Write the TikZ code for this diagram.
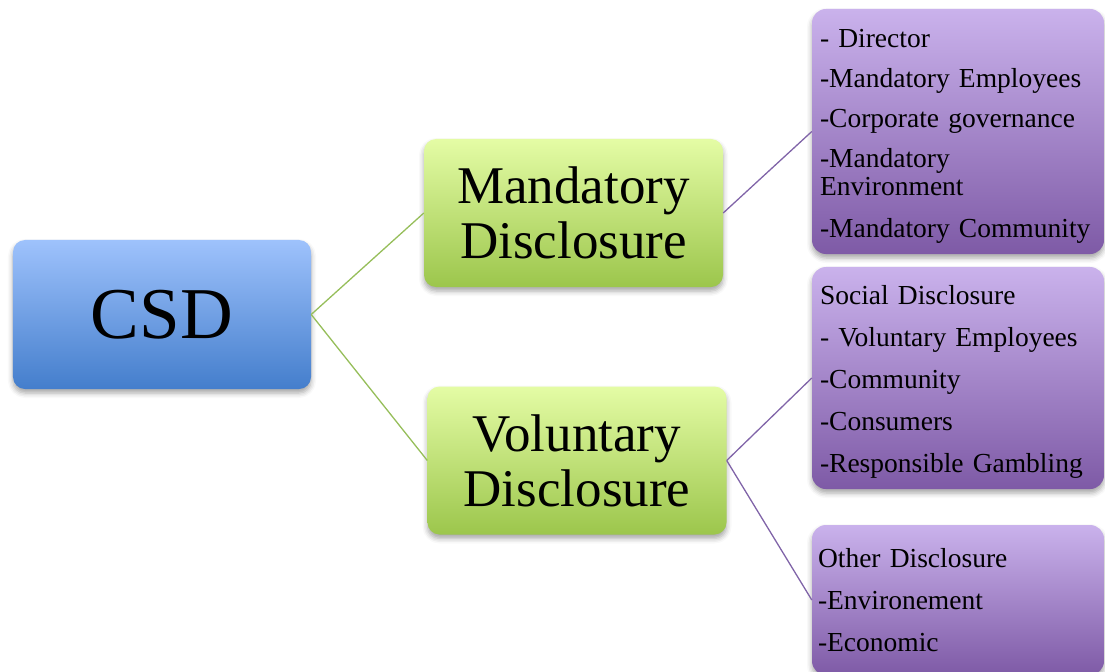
\documentclass[tikz,border=0pt]{standalone}
\usepackage{fontspec}
\setmainfont{Liberation Serif}
\usetikzlibrary{shadows.blur}

\definecolor{blueTop}{RGB}{158,194,252}
\definecolor{blueBot}{RGB}{68,126,204}
\definecolor{greenTop}{RGB}{228,252,165}
\definecolor{greenBot}{RGB}{156,198,76}
\definecolor{purpTop}{RGB}{202,178,236}
\definecolor{purpBot}{RGB}{126,90,166}
\definecolor{greenLine}{RGB}{150,190,90}
\definecolor{purpLine}{RGB}{128,100,168}

% tall invisible strut on the first line of a list, lowering the text a little
\newcommand{\topstrut}{\rule{0pt}{27bp}}

\begin{document}
\begin{tikzpicture}[x=1bp,y=-1bp,
  box/.style={rounded corners=12bp, inner sep=0pt,
    blur shadow={shadow xshift=0bp, shadow yshift=-4bp,
                 shadow blur radius=5bp, shadow opacity=35}},
  rootbox/.style={box, top color=blueTop, bottom color=blueBot,
    minimum width=298bp, minimum height=149bp,
    font=\fontsize{73bp}{76bp}\selectfont},
  midbox/.style={box, top color=greenTop, bottom color=greenBot,
    minimum width=299bp, minimum height=148bp, align=center,
    font=\fontsize{53bp}{55bp}\selectfont},
  leafbox/.style={box, rounded corners=14bp, top color=purpTop, bottom color=purpBot,
    text width=276bp, inner xsep=8bp, align=left,
    font=\fontsize{27.5bp}{28bp}\selectfont},
  greenlink/.style={draw=greenLine, line width=1.3bp},
  purplink/.style={draw=purpLine, line width=1.3bp}
]
\useasboundingbox (0,0) rectangle (1105,672);

% root and second level
\node[rootbox] (csd) at (162,314.5) {CSD};
\node[midbox] (mand) at (573.5,213) {Mandatory\\Disclosure};
\node[midbox] (vol) at (577,460.5) {Voluntary\\Disclosure};

% third level
\node[leafbox, minimum height=245bp] (mlist) at (958,131.5)
  {\topstrut- Director\\[12bp]-Mandatory Employees\\[12bp]-Corporate governance\\[12bp]-Mandatory\\Environment\\[14bp]-Mandatory Community};
\node[leafbox, minimum height=222bp] (social) at (958,378)
  {\topstrut Social Disclosure\\[14bp]- Voluntary Employees\\[14bp]-Community\\[14bp]-Consumers\\[14bp]-Responsible Gambling};
\node[leafbox, minimum height=150bp, inner xsep=6bp, text width=280bp] (other) at (958,600)
  {Other Disclosure\\[14bp]-Environement\\[14bp]-Economic};

% connectors
\draw[greenlink] (csd.east) -- (mand.west);
\draw[greenlink] (csd.east) -- (vol.west);
\draw[purplink] (mand.east) -- (mlist.west);
\draw[purplink] (vol.east) -- (social.west);
\draw[purplink] (vol.east) -- (other.west);
\end{tikzpicture}
\end{document}
